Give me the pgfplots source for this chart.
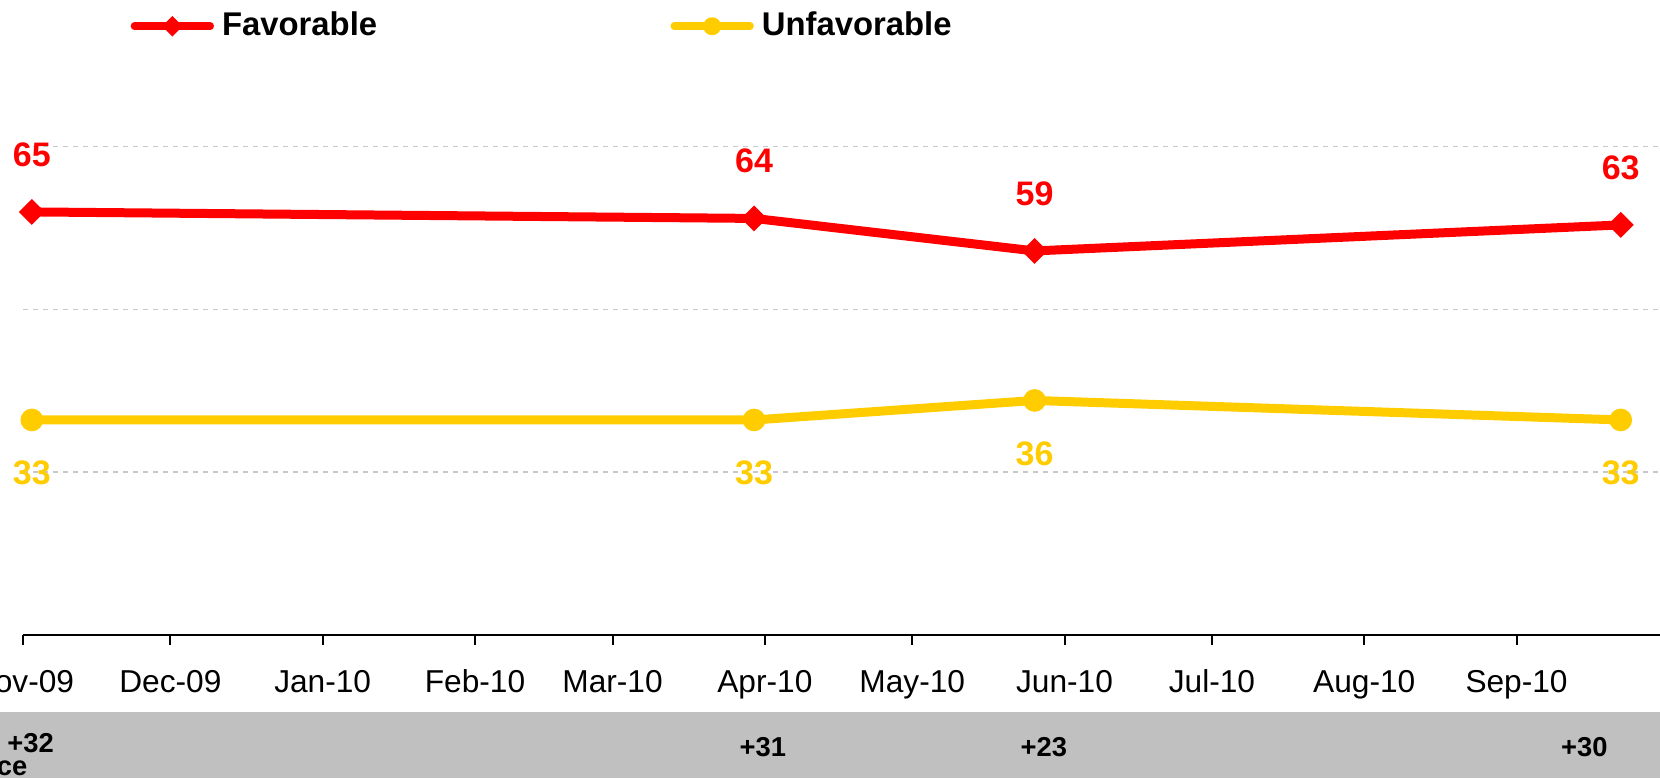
\documentclass[border=0pt]{standalone}
\usepackage{pgfplots}
\pgfplotsset{compat=1.18}
\usepackage{fontspec}
\setmainfont{Liberation Sans}

\definecolor{fav}{RGB}{255,0,0}
\definecolor{unfav}{RGB}{255,204,0}
\definecolor{band}{RGB}{192,192,192}
\definecolor{gridc}{RGB}{200,200,200}

% x = days since 1 Nov 2009
\begin{document}
\begin{tikzpicture}
% grey strip for the net difference row
\fill[band] (0pt,0pt) rectangle (498pt,19.9pt);
\begin{axis}[
    at={(6.9pt,43.05pt)}, anchor=south west,
    scale only axis, width=491.1pt, height=190.35pt,
    xmin=0, xmax=333.2, ymin=0, ymax=97.6,
    clip=false,
    axis x line*=bottom, axis y line*=left,
    y axis line style={draw=none},
    x axis line style={black, line width=0.6pt},
    xtick={0,30,61,92,120,151,181,212,242,273,304},
    xticklabels={Nov-09,Dec-09,Jan-10,Feb-10,Mar-10,Apr-10,May-10,Jun-10,Jul-10,Aug-10,Sep-10},
    xtick align=outside, major tick length=3pt,
    xtick style={black, line width=0.6pt},
    xticklabel style={font=\fontsize{9.5}{11}\selectfont, anchor=base, yshift=-14.3pt},
    ytick={25,50,75}, yticklabels={}, ytick style={draw=none},
    ymajorgrids, grid style={gridc, line width=0.35pt, dash pattern=on 1.5pt off 1.5pt},
    /pgf/number format/assume math mode=true,
    legend columns=2,
    legend style={draw=none, fill=none, inner sep=0pt, outer sep=0pt,
        at={(axis description cs:0.0658,0.9586)}, anchor=west,
        font=\fontsize{9.85}{11}\selectfont\bfseries,
        nodes={inner sep=0pt},
        /tikz/every odd column/.append style={column sep=2.4pt},
        /tikz/every even column/.append style={column sep=88pt}},
    legend cell align=left,
    legend image code/.code={\draw[line width=2.3pt, line cap=round, mark repeat=2, mark phase=2,
        every mark/.append style={scale=0.78}]
        plot coordinates {(0pt,0pt) (11.35pt,0pt) (22.7pt,0pt)};},
    nodes near coords={\pgfmathprintnumber[assume math mode=true]{\pgfplotspointmeta}},
]

% Favorable
\addplot[fav, line width=2.7pt, mark=square*, mark size=2.55pt,
    mark options={solid, rotate=45, line width=0.4pt, fill=fav},
    every node near coord/.append style={anchor=center, yshift=17.2pt,
        font=\fontsize{10.2}{12}\selectfont\bfseries, text=fav}]
    coordinates {(1.8,65) (148.8,64) (205.9,59) (325.2,63)};
\addlegendentry{Favorable}

% Unfavorable
\addplot[unfav, line width=2.7pt, mark=*, mark size=3.2pt,
    mark options={solid, line width=0.4pt, fill=unfav},
    every node near coord/.append style={anchor=center, yshift=-16pt,
        font=\fontsize{10.2}{12}\selectfont\bfseries, text=unfav}]
    coordinates {(1.8,33) (148.8,33) (205.9,36) (325.2,33)};
\addlegendentry{Unfavorable}

% net difference row
\node[anchor=base, font=\fontsize{8.2}{10}\selectfont\bfseries, yshift=-35.45pt] at (axis cs:1.55,0) {+32};
\node[anchor=base, font=\fontsize{8.2}{10}\selectfont\bfseries, yshift=-36.65pt] at (axis cs:150.6,0) {+31};
\node[anchor=base, font=\fontsize{8.2}{10}\selectfont\bfseries, yshift=-36.45pt] at (axis cs:207.8,0) {+23};
\node[anchor=base, font=\fontsize{8.2}{10}\selectfont\bfseries, yshift=-36.45pt] at (axis cs:317.8,0) {+30};
\end{axis}
\node[anchor=base east, inner sep=0pt, font=\fontsize{8.2}{10}\selectfont\bfseries] at (8.4pt,0.9pt) {Difference};
\pgfresetboundingbox
\useasboundingbox (0pt,0pt) rectangle (498pt,233.4pt);
\end{tikzpicture}
\end{document}
